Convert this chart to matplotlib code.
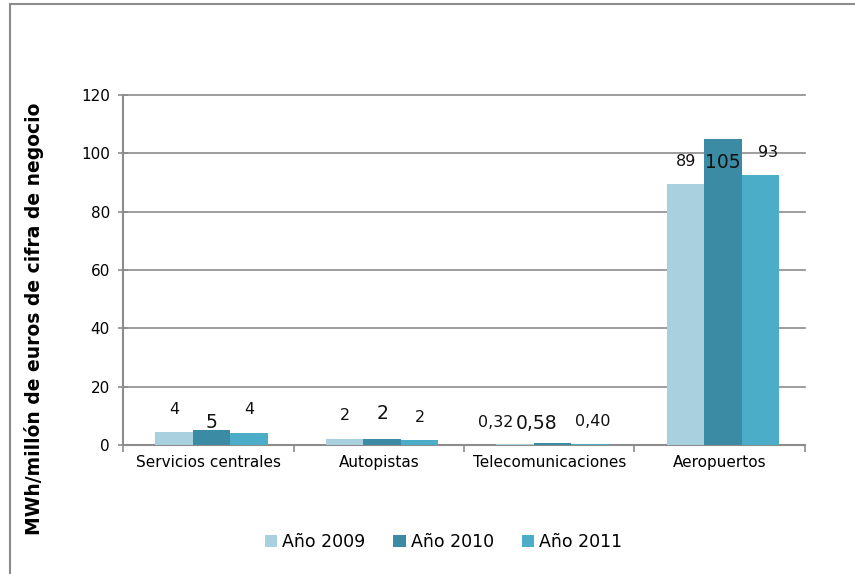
import matplotlib
matplotlib.use("Agg")
import matplotlib.pyplot as plt
import numpy as np
from matplotlib.lines import Line2D

categories = ["Servicios centrales", "Autopistas", "Telecomunicaciones", "Aeropuertos"]
series_names = ["Año 2009", "Año 2010", "Año 2011"]
v2009 = [4.3, 2.2, 0.32, 89.4]
v2010 = [5.3, 2.0, 0.58, 105.0]
v2011 = [4.2, 1.8, 0.40, 92.7]
labels2009 = ["4", "2", "0,32", "89"]
labels2010 = ["5", "2", "0,58", "105"]
labels2011 = ["4", "2", "0,40", "93"]
colors = ["#A9D0DE", "#3A8BA3", "#4BADC7"]
yticks = [0, 20, 40, 60, 80, 100, 120]

# label offsets (points) mimicking the reference's label placement
off2009 = [(0, 22), (0, 22), (-19, 21), (0, 22)]
off2010 = [(0, 7), (0, 25), (-15, 19), (0, -23)]
off2011 = [(0, 22), (0, 21), (2, 21), (7, 21)]

fig = plt.figure(figsize=(8.55, 5.74), dpi=100)
ax = fig.add_axes([0.1439, 0.2247, 0.7976, 0.6098])

x = np.arange(len(categories))
w = 0.22
series = [v2009, v2010, v2011]
labs = [labels2009, labels2010, labels2011]
offs = [off2009, off2010, off2011]
for i, (vals, lab, off, c, name) in enumerate(zip(series, labs, offs, colors, series_names)):
    pos = x + (i - 1) * w + 0.02
    ax.bar(pos, vals, width=w, color=c, label=name, zorder=3)
    fs = 13.5 if i == 1 else 11.5
    for p, v, t, o in zip(pos, vals, lab, off):
        ax.annotate(t, (p, v), xytext=(o[0] * 0.75, o[1] * 0.75), textcoords="offset points",
                    ha="center", va="center", fontsize=fs, color="#111111", zorder=4)

ax.set_xlim(-0.5, 3.5)
ax.set_ylim(0, 120)
ax.set_yticks(yticks)
ax.set_yticklabels([str(t) for t in yticks], fontsize=11)
ax.yaxis.grid(True, color="#8C8C8C", linewidth=1.2, zorder=0)
for gl in ax.get_ygridlines():
    gl.set_clip_on(False)
ax.set_axisbelow(True)
ax.set_xticks(x)
ax.set_xticklabels(categories, fontsize=11)
ax.tick_params(axis="x", length=0, pad=7)
ax.set_xticks(np.arange(-0.5, 3.6, 1), minor=True)
ax.tick_params(axis="x", which="minor", length=5, color="#8C8C8C", width=1.2)
ax.tick_params(axis="y", length=7, direction="inout", color="#8C8C8C", width=1.2, pad=6)
for s in ["top", "right"]:
    ax.spines[s].set_visible(False)
for s in ["left", "bottom"]:
    ax.spines[s].set_color("#8C8C8C")
    ax.spines[s].set_linewidth(1.5)
ax.set_ylabel("MWh/millón de euros de cifra de negocio", fontsize=13.5, fontweight="bold")
ax.yaxis.set_label_coords(-0.116, 0.36)

ax.legend(loc="center", bbox_to_anchor=(0.47, -0.278), ncol=3, frameon=False,
          fontsize=12.5, handlelength=0.7, handleheight=0.7, handletextpad=0.3, columnspacing=1.6)

# outer frame
fig.add_artist(Line2D([10/855, 1], [1-4/574, 1-4/574], color="#8C8C8C", linewidth=1.5, transform=fig.transFigure))
fig.add_artist(Line2D([10/855, 10/855], [0, 1-4/574], color="#8C8C8C", linewidth=1.5, transform=fig.transFigure))

fig.savefig("out.png", dpi=100)
